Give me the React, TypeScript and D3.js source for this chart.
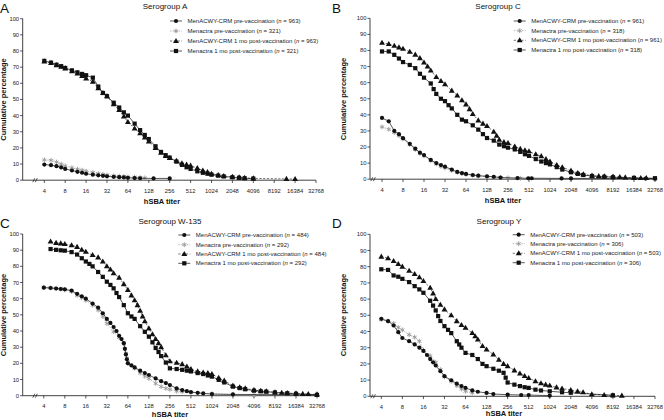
import React from "react";
import * as d3 from "d3";

type Pt = [number, number];

// ---------- data (titer, cumulative %) ----------
const titerTicks = [4, 8, 16, 32, 64, 128, 256, 512, 1024, 2048, 4096, 8192, 16384, 32768];
const yTicks = [0, 10, 20, 30, 40, 50, 60, 70, 80, 90, 100];
const panelLetters = ["A", "B", "C", "D"];
const panelTitles = ["Serogroup A", "Serogroup C", "Serogroup W-135", "Serogroup Y"];
const seriesNames = [
  "MenACWY-CRM pre-vaccination",
  "Menactra pre-vaccination",
  "MenACWY-CRM 1 mo post-vaccination",
  "Menactra 1 mo post-vaccination",
];
const nA = [963, 321, 963, 321];
const nC = [961, 318, 961, 318];
const nW = [484, 292, 484, 292];
const nY = [503, 306, 503, 306];

// Serogroup A
const A_crmPre: Pt[] = [[4, 9.7], [5, 9.3], [6, 8.7], [7, 7.9], [8, 7], [10, 6], [12, 5.2], [14, 4.6], [16, 4], [20, 3.4], [24, 3], [28, 2.7], [32, 2.4], [40, 2.1], [48, 1.9], [56, 1.7], [64, 1.5], [80, 1.3], [96, 1.2], [150, 1.1], [256, 1.1]];
const A_menPre: Pt[] = [[4, 12.6], [5, 12.3], [6, 11.2], [7, 10], [8, 8.9], [10, 7.7], [12, 6.8], [14, 6.2], [16, 5.6], [20, 4.8], [24, 4.1], [28, 3.6], [32, 3.2], [40, 2.7], [48, 2.4], [56, 2.2], [64, 2], [80, 1.9], [96, 1.6], [112, 1.4]];
const A_crmPost: Pt[] = [[4, 73.5], [5, 72.5], [6, 71.2], [7, 70.2], [8, 69.2], [10, 67.5], [12, 66], [14, 64.5], [16, 63], [20, 61], [24, 57], [28, 54], [32, 52], [40, 47], [48, 43.5], [56, 39.5], [64, 36], [80, 32], [96, 29], [112, 26.5], [128, 24], [160, 20], [192, 17], [224, 15], [256, 13.7], [320, 12], [384, 10.5], [448, 9.7], [512, 9], [640, 7.5], [768, 6], [896, 5], [1024, 4], [1280, 3.2], [1536, 2.6], [2048, 2.1], [2560, 1.7], [3072, 1.4], [4096, 1.1], [12288, 0.8], [16384, 0.7]];
const A_menPost: Pt[] = [[4, 73.9], [5, 72.8], [6, 71.5], [7, 70.6], [8, 69.5], [10, 68], [12, 66.8], [14, 65.8], [16, 65], [20, 63.5], [24, 58], [28, 54], [32, 52], [40, 48], [48, 45], [56, 42], [64, 40], [80, 35], [96, 31], [112, 28], [128, 25.5], [160, 21], [192, 17.5], [224, 15.5], [256, 14], [320, 11.5], [384, 9.5], [448, 8], [512, 7], [640, 5.5], [768, 4.6], [896, 4], [1024, 3.4], [1280, 2.8], [1536, 2.3], [2048, 1.8], [2560, 1.5], [3072, 1.2], [4096, 1]];

// Serogroup C
const C_crmPre: Pt[] = [[4, 38.1], [5, 36], [6, 30], [7, 28], [8, 25.5], [10, 22], [12, 19], [14, 16.5], [16, 15], [20, 12], [24, 10], [28, 8.8], [32, 7.8], [40, 6], [48, 4.5], [56, 3.8], [64, 3.3], [80, 2.6], [96, 2.2], [128, 1.8], [160, 1.5], [200, 1], [350, 0.7], [500, 0.6], [560, 0.6], [1500, 0.5], [2048, 0.5], [24000, 0.4], [32768, 0.4]];
const C_menPre: Pt[] = [[4, 32.5], [5, 31], [6, 29], [7, 27], [8, 25], [10, 21.5], [12, 18.5], [14, 16], [16, 14.5], [20, 11.5], [24, 9.5], [28, 8], [32, 7], [40, 5.5], [48, 4.3], [56, 3.5], [64, 3], [80, 2.4], [96, 2], [128, 1.5], [160, 1.2], [200, 1], [256, 0.8], [384, 0.6]];
const C_crmPost: Pt[] = [[4, 84.8], [5, 84], [6, 82.9], [7, 81.9], [8, 81], [10, 79.2], [12, 77.4], [14, 75.2], [16, 72.5], [18, 70], [20, 67.5], [24, 63.5], [28, 61], [32, 59], [40, 55], [48, 52], [56, 49], [64, 46.5], [72, 43.5], [80, 40.5], [96, 36.5], [112, 34.5], [128, 33], [160, 29.5], [176, 27], [192, 24.5], [224, 23], [256, 22.5], [320, 20.3], [384, 18.8], [448, 18], [512, 17.3], [640, 15.5], [768, 14.3], [896, 12.5], [1024, 11], [1280, 8.8], [1536, 7.4], [2048, 5.3], [2560, 3.8], [3072, 3], [4096, 2.2], [5120, 1.9], [6144, 1.8], [8192, 1.6], [10240, 1.3], [12288, 1.1], [16384, 0.8], [20480, 0.7], [24576, 0.7]];
const C_menPost: Pt[] = [[4, 79.4], [5, 79.4], [6, 77.3], [7, 75], [8, 72.8], [10, 71], [12, 69], [14, 65.5], [16, 63.1], [20, 59.5], [22, 56], [24, 53], [28, 50], [32, 48.5], [36, 46], [40, 44], [48, 40], [56, 37], [64, 36], [80, 33.5], [96, 30.8], [112, 28], [128, 25.6], [160, 24], [192, 21.5], [224, 20.5], [256, 19.6], [320, 18.5], [384, 17], [448, 15.5], [512, 14.5], [640, 12.5], [768, 11], [896, 10], [1024, 9.2], [1280, 7.5], [1536, 6], [2048, 4.3], [2560, 3.3], [3072, 2.6], [4096, 2], [6144, 1.5], [8192, 1.2], [16384, 0.8], [32768, 0.6]];

// Serogroup W-135
const W_crmPre: Pt[] = [[4, 66.8], [5, 66.6], [6, 66.3], [7, 66], [8, 65.8], [10, 65], [12, 63], [14, 61.5], [16, 60], [20, 57], [24, 54.5], [28, 51], [32, 47.5], [36, 45], [40, 42.5], [44, 40], [48, 37], [52, 35], [56, 32.5], [58, 29], [60, 25.5], [62, 22.5], [64, 20], [72, 18.7], [80, 17.5], [96, 15.5], [112, 14], [128, 12.8], [160, 10.7], [192, 9], [224, 7.8], [256, 6.6], [320, 4.5], [384, 3.5], [448, 2.8], [512, 2.3], [640, 1.8], [768, 1.4], [1024, 1], [2048, 0.8], [32768, 0.5]];
const W_menPre: Pt[] = [[4, 67], [5, 66.7], [6, 66.3], [7, 66], [8, 65.5], [10, 64.5], [12, 62], [14, 60.5], [16, 59], [20, 56], [24, 53], [28, 49], [32, 44.7], [40, 39.6], [48, 36], [56, 32], [58, 29], [60, 26], [62, 23], [64, 21], [80, 17], [96, 14], [112, 12], [128, 10.7], [160, 7.6], [192, 5.6], [224, 4.5], [256, 3.9], [320, 2.8], [384, 2.5], [512, 2], [1024, 1.2], [2048, 0.6], [4096, 0.3]];
const W_crmPost: Pt[] = [[5, 95.3], [6, 94.5], [7, 94.2], [8, 93.8], [10, 93], [12, 92], [14, 90.2], [16, 89], [20, 87], [24, 85.5], [28, 83], [32, 80], [36, 78], [40, 75.7], [48, 73], [56, 69], [64, 65.4], [72, 62], [80, 59], [88, 56], [96, 52.5], [104, 49], [112, 46], [128, 41.6], [144, 38], [160, 35], [176, 32.5], [192, 30], [224, 25], [256, 21.3], [320, 20.3], [384, 19.5], [448, 18], [512, 16.5], [640, 15], [768, 14.3], [896, 14], [1024, 13.4], [1280, 11], [1536, 9.3], [2048, 6.2], [2560, 5.2], [3072, 4.5], [4096, 3.5], [5120, 3], [6144, 2.7], [8192, 2.1], [10240, 1.8], [12288, 1.6], [16384, 1.4], [20480, 1.1], [24576, 1], [32768, 0.8]];
const W_menPost: Pt[] = [[5, 90.7], [6, 90.2], [7, 89.9], [8, 89.7], [10, 88.8], [12, 87.3], [14, 85], [16, 83], [18, 81.5], [20, 80], [24, 76.5], [28, 73.5], [32, 70.5], [36, 68.5], [40, 66.4], [44, 63.5], [48, 61], [56, 56], [64, 51], [72, 49], [80, 47.5], [96, 43], [112, 39.5], [128, 36.5], [144, 33], [160, 29.5], [176, 27], [192, 24.5], [224, 20.5], [256, 16.9], [320, 16.5], [384, 16], [448, 15.5], [512, 15], [640, 14], [768, 13.4], [896, 12.5], [1024, 11.8], [1280, 9.8], [1536, 8.2], [2048, 5.6], [2560, 4.7], [3072, 4], [4096, 3.1], [5120, 2.7], [6144, 2.5], [8192, 2], [12288, 1.5], [16384, 1.2], [32768, 0.5]];

// Serogroup Y
const Y_crmPre: Pt[] = [[4, 47.8], [5, 46.4], [6, 43.7], [7, 39.6], [8, 36], [10, 34], [12, 32], [14, 30], [16, 28], [18, 25.5], [20, 23], [22, 21], [24, 19], [28, 15.5], [32, 12.4], [40, 9.9], [48, 7.8], [56, 6.3], [64, 5.2], [80, 3.6], [96, 2.8], [128, 2.1], [160, 1.4], [256, 1], [400, 0.8], [512, 0.8], [1024, 0.4]];
const Y_menPre: Pt[] = [[4, 47.4], [5, 46.4], [6, 45], [7, 42.5], [8, 41], [10, 38], [12, 36.5], [14, 34], [16, 28.5], [20, 25], [24, 21], [28, 16.5], [32, 12], [40, 9.3], [48, 6.5], [56, 4.5], [64, 3.1], [80, 2.1]];
const Y_crmPost: Pt[] = [[4, 86.2], [5, 85.2], [6, 83.5], [7, 81.6], [8, 80], [10, 77.5], [12, 75.5], [14, 73.5], [16, 71.1], [20, 67], [22, 63.5], [24, 60], [28, 56.5], [32, 53.6], [40, 50], [48, 46.4], [56, 44], [64, 42.3], [80, 39], [88, 37], [96, 35], [112, 31], [128, 28.9], [160, 25.8], [192, 22.5], [224, 20], [256, 18.6], [320, 16], [384, 14], [448, 12.5], [512, 11.3], [640, 9.3], [768, 8], [896, 7.2], [1024, 6.6], [1280, 5.5], [1536, 4.8], [2048, 3.9], [2560, 3], [3072, 2.5], [4096, 1.2], [6144, 0.8], [8192, 0.6], [11000, 0.4]];
const Y_menPost: Pt[] = [[4, 78.4], [5, 78], [6, 74.6], [7, 73.8], [8, 72.5], [10, 70.5], [12, 68], [14, 66], [16, 63.9], [20, 59], [22, 56], [24, 53], [26, 49.5], [28, 46.5], [32, 43.3], [36, 41], [40, 39], [48, 34], [52, 32], [56, 30], [64, 26.8], [80, 25.5], [96, 23], [112, 20], [128, 18.6], [160, 17], [192, 15.8], [224, 14.5], [240, 11.5], [256, 8.5], [320, 7.2], [384, 6.3], [448, 5.6], [512, 5.2], [640, 4.1], [768, 3.6], [1024, 3.1], [1536, 2.5], [2048, 2.2], [8192, 0.6]];

const panelData: Pt[][][] = [
  [A_crmPre, A_menPre, A_crmPost, A_menPost],
  [C_crmPre, C_menPre, C_crmPost, C_menPost],
  [W_crmPre, W_menPre, W_crmPost, W_menPost],
  [Y_crmPre, Y_menPre, Y_crmPost, Y_menPost],
];
const panelN = [nA, nC, nW, nY];

// ---------- layout ----------
const layouts = [
  { axisX: 22.7, x0: 44.3, x1: 316, yTop: 18.7, yBot: 180.2, letter: [0, 12.6], title: [165, 9], xTitle: [162, 204], yTitle: [6.2, 99.5], legX: 176, legY: [21, 31, 41, 51], brk: 35 },
  { axisX: 370, x0: 382, x1: 655, yTop: 18.3, yBot: 179.2, letter: [332, 12.6], title: [498, 9], xTitle: [503, 203], yTitle: [346, 99], legX: 519.7, legY: [21, 30.7, 40.3, 50], brk: 373 },
  { axisX: 22.7, x0: 43.8, x1: 317, yTop: 234, yBot: 395.7, letter: [0, 228], title: [170, 224], xTitle: [170, 416.5], yTitle: [6.2, 315], legX: 184.3, legY: [235, 244.7, 254, 263.3], brk: 35 },
  { axisX: 370, x0: 381.3, x1: 655, yTop: 234.3, yBot: 396.3, letter: [332, 228], title: [499, 224], xTitle: [504, 415.5], yTitle: [345.5, 315], legX: 518.7, legY: [234.7, 243.7, 253.3, 262.7], brk: 373 },
];

const FONT = "Liberation Sans, Arial, Helvetica, sans-serif";
const styles = [
  { stroke: "#111", dash: undefined as string | undefined },
  { stroke: "#999", dash: "1.6,1.2" },
  { stroke: "#333", dash: "2.2,1.6" },
  { stroke: "#111", dash: undefined as string | undefined },
];

function Marker({ kind, x, y }: { kind: number; x: number; y: number }) {
  if (kind === 0) return <circle cx={x} cy={y} r={2.1} fill="#111" />;
  if (kind === 1) {
    const p = d3.symbol().type(d3.symbolAsterisk).size(16)();
    return <path d={p || ""} transform={`translate(${x},${y})`} stroke="#999" strokeWidth={0.9} fill="none" />;
  }
  if (kind === 2) {
    const p = d3.symbol().type(d3.symbolTriangle).size(15)();
    return <path d={p || ""} transform={`translate(${x},${y + 0.3})`} fill="#111" />;
  }
  return <rect x={x - 2.1} y={y - 2.1} width={4.2} height={4.2} fill="#111" />;
}

function Panel({ idx }: { idx: number }) {
  const L = layouts[idx];
  const x = d3.scaleLog().base(2).domain([4, 32768]).range([L.x0, L.x1]);
  const y = d3.scaleLinear().domain([0, 100]).range([L.yBot, L.yTop]);
  const line = d3.line<Pt>().x((d) => x(d[0])).y((d) => y(d[1])).curve(d3.curveLinear);
  const data = panelData[idx];
  const order = [1, 0, 2, 3];
  return (
    <g>
      <text x={L.letter[0]} y={L.letter[1]} fontSize={13.5} fontFamily={FONT} fill="#111">{panelLetters[idx]}</text>
      <text x={L.title[0]} y={L.title[1]} fontSize={8} fontFamily={FONT} textAnchor="middle" fill="#111">{panelTitles[idx]}</text>
      <line x1={L.axisX} x2={L.axisX} y1={L.yTop} y2={L.yBot} stroke="#111" strokeWidth={0.8} />
      <line x1={L.axisX} x2={L.x1} y1={L.yBot} y2={L.yBot} stroke="#111" strokeWidth={0.8} />
      {yTicks.map((t) => (
        <g key={"y" + t}>
          <line x1={L.axisX - 2.6} x2={L.axisX} y1={y(t)} y2={y(t)} stroke="#111" strokeWidth={0.7} />
          <text x={L.axisX - 3.6} y={y(t) + 2} fontSize={5.8} fontFamily={FONT} textAnchor="end" fill="#222">{t}</text>
        </g>
      ))}
      {titerTicks.map((t) => (
        <g key={"x" + t}>
          <line x1={x(t)} x2={x(t)} y1={L.yBot} y2={L.yBot + 2.8} stroke="#111" strokeWidth={0.7} />
          <text x={x(t)} y={L.yBot + 12.5} fontSize={5.8} fontFamily={FONT} textAnchor="middle" fill="#222">{t}</text>
        </g>
      ))}
      <g stroke="#111" strokeWidth={0.7}>
        <line x1={L.brk - 2.2} y1={L.yBot + 2} x2={L.brk - 0.2} y2={L.yBot - 2} />
        <line x1={L.brk + 0.3} y1={L.yBot + 2} x2={L.brk + 2.3} y2={L.yBot - 2} />
      </g>
      <text x={L.xTitle[0]} y={L.xTitle[1]} fontSize={7.5} fontWeight="bold" fontFamily={FONT} textAnchor="middle" fill="#111">hSBA titer</text>
      <text transform={`translate(${L.yTitle[0]},${L.yTitle[1]}) rotate(-90)`} fontSize={7.5} fontWeight="bold" fontFamily={FONT} textAnchor="middle" fill="#111">Cumulative percentage</text>
      {order.map((s) => (
        <g key={"s" + s}>
          <path d={line(data[s]) || ""} fill="none" stroke={styles[s].stroke} strokeWidth={0.7} strokeDasharray={styles[s].dash} />
          {data[s].map((d, i) => (
            <Marker key={i} kind={s} x={x(d[0])} y={y(d[1])} />
          ))}
        </g>
      ))}
      {seriesNames.map((nm, s) => (
        <g key={"l" + s}>
          <line x1={L.legX - 6} x2={L.legX + 6} y1={L.legY[s]} y2={L.legY[s]} stroke={styles[s].stroke} strokeWidth={0.7} strokeDasharray={styles[s].dash} />
          <Marker kind={s} x={L.legX} y={L.legY[s]} />
          <text x={L.legX + 11.5} y={L.legY[s] + 2.1} fontSize={6} fontFamily={FONT} fill="#222">
            {nm} (<tspan fontStyle="italic">n</tspan> = {panelN[idx][s]})
          </text>
        </g>
      ))}
    </g>
  );
}

export default function App() {
  return (
    <svg width={664} height={420} style={{ position: "absolute", left: 0, top: 0, background: "#fff" }}>
      <rect width={664} height={420} fill="#fff" />
      {[0, 1, 2, 3].map((i) => (
        <Panel key={i} idx={i} />
      ))}
    </svg>
  );
}
